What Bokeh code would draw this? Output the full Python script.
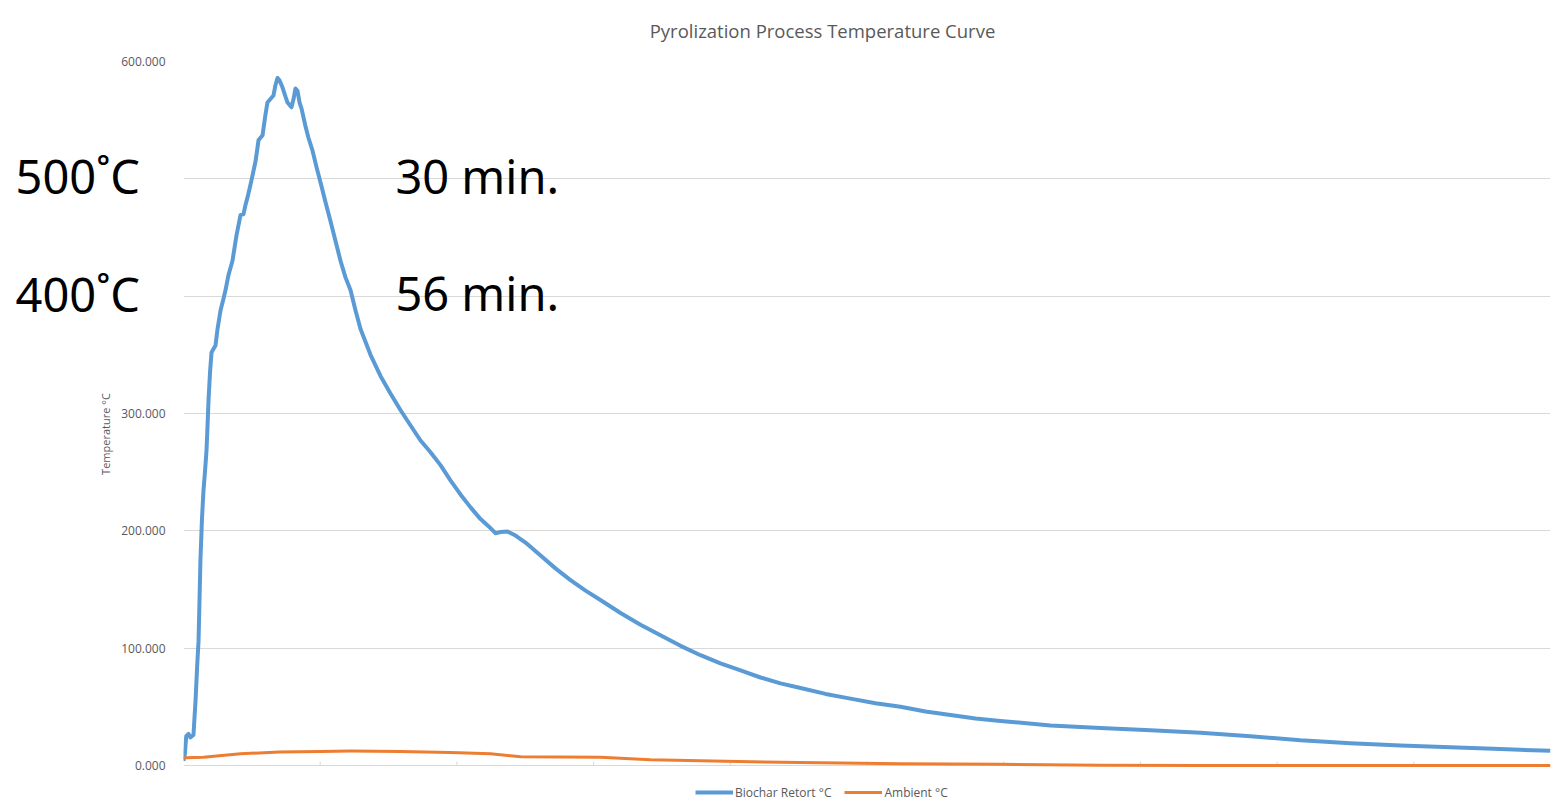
from bokeh.plotting import figure
from bokeh.models import (Range1d, FixedTicker, NumeralTickFormatter,
                          Label, Legend, LegendItem)
from bokeh.embed import file_html
from bokeh.resources import INLINE

# Time axis (arbitrary units, 0-100) and temperatures
biochar_t = [0.0, 0.1, 0.2, 0.37, 0.5, 0.73, 0.8, 0.88, 1.0, 1.1, 1.17, 1.24, 1.35, 1.46, 1.57,
             1.68, 1.76, 1.83, 1.94, 2.05, 2.19, 2.34, 2.49, 2.71, 2.93, 3.07, 3.29, 3.58, 3.88,
             4.17, 4.39, 4.54, 4.68, 4.9, 5.05, 5.27, 5.49, 5.63, 5.78, 6.0, 6.14, 6.36, 6.58,
             6.73, 6.88, 7.02, 7.24, 7.46, 7.61, 7.9, 8.05, 8.19, 8.34, 8.49, 8.63, 8.92, 9.14,
             9.44, 9.73, 10.02, 10.39, 10.75, 11.12, 11.49, 11.85, 12.22, 12.58, 12.95, 13.68,
             14.41, 15.14, 15.87, 16.6, 17.34, 18.07, 18.8, 19.53, 20.26, 21.0, 21.73, 22.31,
             22.82, 23.19, 23.7, 24.29, 25.02, 26.12, 27.21, 28.31, 29.41, 30.5, 31.97, 33.43,
             34.89, 36.36, 37.82, 39.28, 40.75, 42.21, 43.67, 45.14, 46.97, 48.79, 50.62, 52.45,
             54.28, 56.11, 57.94, 59.77, 63.42, 67.08, 70.74, 74.4, 78.05, 81.71, 85.37, 89.03,
             92.68, 96.34, 100.0]
biochar_temp = [4, 10, 25, 27, 24, 26, 40, 55, 85, 106, 140, 175, 210, 234, 250,
                268, 290, 311, 335, 352, 355, 358, 372, 388, 398, 405, 418, 430, 452,
                469, 470, 478, 484, 495, 503, 515, 533, 535, 537, 555, 565, 568, 571,
                580, 586, 584, 578, 570, 565, 561, 568, 577, 575, 565, 560, 545, 535,
                524, 510, 497, 480, 464, 447, 430, 416, 405, 388, 372, 350,
                332, 317, 303, 290, 277, 267, 256, 243, 231, 220, 210, 204,
                198, 199, 199.5, 196, 190, 179, 168, 158, 149, 141, 130, 120,
                111, 102, 94, 87, 81, 75, 70, 66, 61, 57, 53, 50,
                46, 43, 40, 38, 34, 32, 30, 28, 25, 21.5, 19, 17,
                15.5, 14, 12.5]

ambient_t = [0.0, 0.15, 1.46, 4.17, 7.0, 10.02, 12.22, 15.87, 19.53, 22.46, 24.66, 30.5,
             34.16, 37.82, 45.14, 52.45, 59.77, 67.08, 74.4, 85.0, 100.0]
ambient_temp = [6, 6.5, 7, 10, 11.5, 12, 12.3, 12, 11, 10, 7.5, 7,
                5, 4, 2.5, 1.5, 1, 0.3, 0, 0, 0]

y_ticks = [0, 100, 200, 300, 400, 500, 600]
x_ticks = [10, 20, 30, 40, 50, 60, 70, 80, 90]

title_text = "Pyrolization Process Temperature Curve"
series_names = ["Biochar Retort °C", "Ambient °C"]
note_temps = ["500˚C", "400˚C"]
note_times = ["30 min.", "56 min."]
note_levels = [500, 400]

GREY = "#595959"
AXIS_GREY = "#d9d9d9"
PX_PER_UNIT = 704 / 600.0          # vertical scale: 600 units over 704 px
BOTTOM_PAD = 41                    # px below the zero line kept for the legend

p = figure(width=1552, height=806, frame_width=1367, frame_height=704 + BOTTOM_PAD,
           min_border_left=183, min_border_top=61, min_border_bottom=0, min_border_right=2,
           output_backend="svg", toolbar_location=None, x_axis_location=None,
           x_range=Range1d(0, 100), y_range=Range1d(-BOTTOM_PAD / PX_PER_UNIT, 600))
p.outline_line_color = None
p.background_fill_color = "white"
p.border_fill_color = "white"

p.xgrid.grid_line_color = None
p.ygrid.grid_line_color = AXIS_GREY
p.ygrid.ticker = FixedTicker(ticks=y_ticks)

p.yaxis.ticker = FixedTicker(ticks=y_ticks)
p.yaxis.formatter = NumeralTickFormatter(format="0.000")
p.yaxis.major_label_overrides = {lvl: "" for lvl in note_levels}
p.yaxis.axis_line_color = None
p.yaxis.major_tick_line_color = None
p.yaxis.minor_tick_line_color = None
p.yaxis.major_label_text_font = "Open Sans"
p.yaxis.major_label_text_font_size = "12px"
p.yaxis.major_label_text_color = GREY
p.yaxis.major_label_standoff = 12
p.yaxis.axis_label = "Temperature °C"
p.yaxis.axis_label_text_font = "Open Sans"
p.yaxis.axis_label_text_font_size = "11px"
p.yaxis.axis_label_text_font_style = "normal"
p.yaxis.axis_label_text_color = GREY
p.yaxis.axis_label_standoff = 5

# small category ticks on the zero line (time axis without labels)
p.segment(x0=x_ticks, y0=[0] * len(x_ticks), x1=x_ticks, y1=[4 / PX_PER_UNIT] * len(x_ticks),
          line_color=AXIS_GREY, line_width=1)

r1 = p.line(biochar_t, biochar_temp, line_color="#5b9bd5", line_width=4, line_join="round")
r2 = p.line(ambient_t, ambient_temp, line_color="#ed7d31", line_width=3, line_join="round")

legend = Legend(items=[LegendItem(label=series_names[0], renderers=[r1]),
                       LegendItem(label=series_names[1], renderers=[r2])],
                location=(512, 5), orientation="horizontal",
                border_line_color=None, background_fill_alpha=0,
                padding=0, margin=0, spacing=13, glyph_width=38, glyph_height=18,
                label_standoff=2, label_text_font="Open Sans", label_text_font_size="12px",
                label_text_color=GREY)
p.add_layout(legend)

# Title and left-hand notes: drawn in canvas units from the bottom side panel (not clipped)
p.add_layout(Label(x=822, y=30, x_units="canvas", y_units="canvas", text=title_text,
                   text_align="center", text_baseline="middle", text_font="Open Sans",
                   text_font_size="18.5px", text_line_height=0.01, text_color=GREY), "below")
for temp, ypx in zip(note_temps, [175, 293]):
    p.add_layout(Label(x=15, y=ypx, x_units="canvas", y_units="canvas", text=temp,
                       text_align="left", text_baseline="middle", text_font="Noto Sans",
                       text_font_size="47px", text_line_height=0.01,
                       text_color="black"), "below")
for dur, lvl in zip(note_times, note_levels):
    p.add_layout(Label(x=15.5, y=lvl, y_offset=3, text=dur, text_align="left",
                       text_baseline="middle", text_font="Noto Sans",
                       text_font_size="47px", text_color="black"))

open("out.html", "w").write(file_html(p, INLINE))
